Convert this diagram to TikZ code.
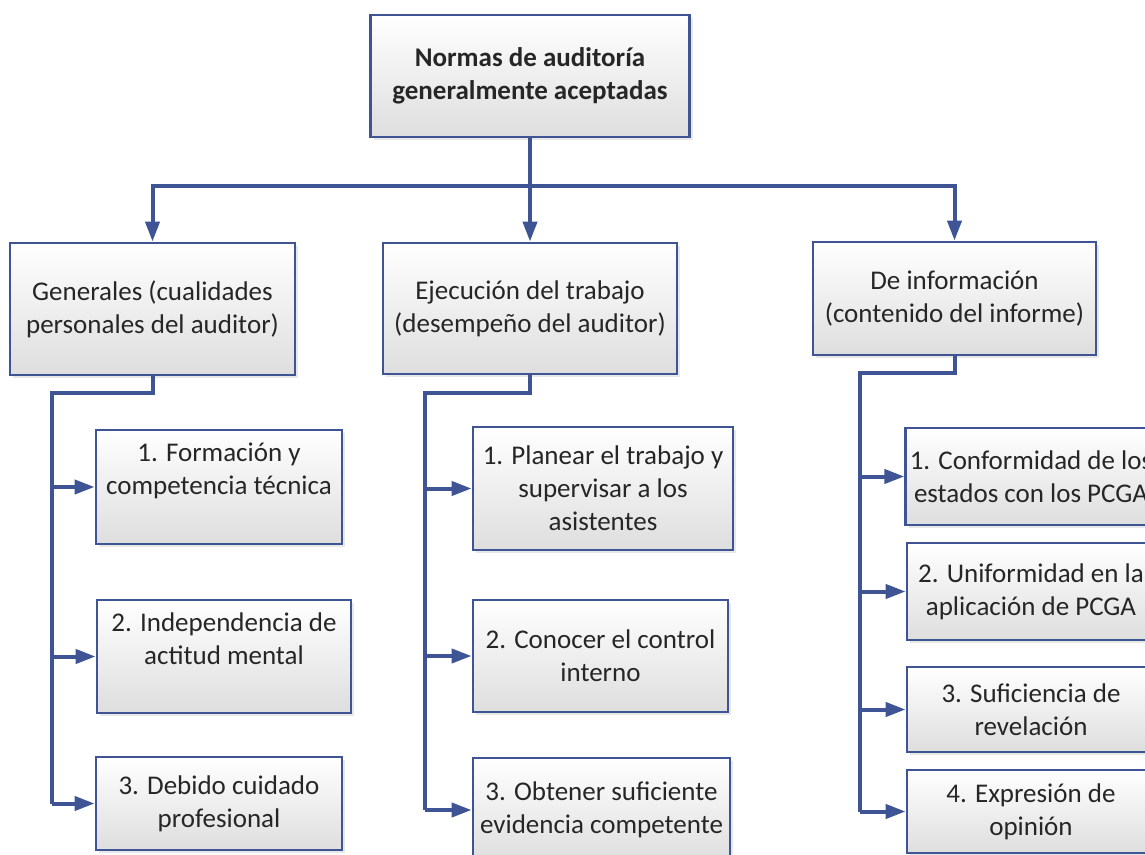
\documentclass[tikz,border=0pt]{standalone}
\usepackage{fontspec}
\setmainfont{Carlito}
\usetikzlibrary{arrows.meta,shadows}
\definecolor{edgeblue}{RGB}{62,84,148}
\definecolor{inkgray}{RGB}{38,38,38}

\begin{document}
\begin{tikzpicture}[x=0.5pt,y=-0.5pt,
  box/.style={draw=edgeblue, line width=1.4pt, top color=white, bottom color=black!13,
    drop shadow={opacity=0.18,shadow xshift=1.5pt,shadow yshift=-1.5pt},
    align=center, inner sep=2pt, text=inkgray,
    font=\fontsize{13.5pt}{16.5pt}\selectfont},
  wire/.style={edgeblue, line width=2pt},
  link/.style={wire, -{Triangle[length=10pt,width=7pt]}},
  raised/.style={text depth=18pt}]
\useasboundingbox (0,0) rectangle (1145,855);
\clip (0,0) rectangle (1145,855);

% root and the three groups
\node[box, minimum width=159.5pt, minimum height=61pt,
  font=\fontsize{13.5pt}{16.5pt}\selectfont\bfseries] (root) at (530,76) {Normas de auditoría\\generalmente aceptadas};
\node[box, minimum width=142.5pt, minimum height=66pt] (gen) at (152.5,309) {Generales (cualidades\\personales del auditor)};
\node[box, minimum width=147pt, minimum height=65.5pt] (eje) at (530,308.5) {Ejecución del trabajo\\(desempeño del auditor)};
\node[box, minimum width=141.5pt, minimum height=56.5pt] (inf) at (954.5,298.5) {De información\\(contenido del informe)};

% generales
\node[box, raised, minimum width=123pt, minimum height=57pt] (g1) at (219,487) {1. Formación y\\competencia técnica};
\node[box, raised, minimum width=127pt, minimum height=56.5pt] (g2) at (224,656.5) {2. Independencia de\\actitud mental};
\node[box, minimum width=123pt, minimum height=46.5pt] (g3) at (219,803.5) {3. Debido cuidado\\profesional};

% ejecucion
\node[box, minimum width=130pt, minimum height=61.5pt] (e1) at (603,488.5) {1. Planear el trabajo y\\supervisar a los\\asistentes};
\node[box, minimum width=127.5pt, minimum height=56pt] (e2) at (600.5,656) {2. Conocer el control\\interno};
\node[box, minimum width=128.5pt, minimum height=52pt] (e3) at (601.5,810) {3. Obtener suficiente\\evidencia competente};

% informacion
\node[box, minimum width=124pt, minimum height=48.5pt] (i1) at (1031,476.5) {1. Conformidad de los\\estados con los PCGA};
\node[box, minimum width=124pt, minimum height=48.5pt] (i2) at (1031,591.5) {2. Uniformidad en la\\aplicación de PCGA};
\node[box, minimum width=124pt, minimum height=42.5pt] (i3) at (1031,709.5) {3. Suficiencia de\\revelación};
\node[box, minimum width=124pt, minimum height=41.5pt] (i4) at (1031,811.5) {4. Expresión de\\opinión};

% connectors
\coordinate (bus) at (530,186);
\draw[link] (root.south) -- (eje.north);
\draw[link] (bus) -| (gen.north);
\draw[link] (bus) -| (inf.north);

\coordinate (gspine) at (52,393);
\draw[wire] (gen.south) |- (gspine) -- (gspine |- g3.west);
\foreach \n in {g1,g2,g3}
  \draw[link] (gspine |- \n.west) -- (\n.west);

\coordinate (espine) at (425,393);
\draw[wire] (eje.south) |- (espine) -- (espine |- e3.west);
\foreach \n in {e1,e2,e3}
  \draw[link] (espine |- \n.west) -- (\n.west);

\coordinate (ispine) at (860,373);
\draw[wire] (inf.south) |- (ispine) -- (ispine |- i4.west);
\foreach \n in {i1,i2,i3,i4}
  \draw[link] (ispine |- \n.west) -- (\n.west);
\end{tikzpicture}
\end{document}
